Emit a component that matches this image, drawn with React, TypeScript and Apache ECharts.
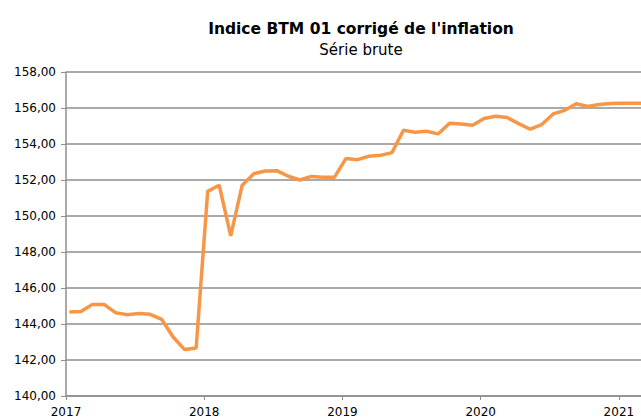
import React, { useEffect, useRef } from "react";
import * as echarts from "echarts";

const startYear = 2017;
const values: number[] = [
  144.67, 144.70, 145.09, 145.09, 144.63, 144.52, 144.58, 144.54, 144.26, 143.28, 142.58, 142.67,
  151.37, 151.71, 148.89, 151.71, 152.35, 152.50, 152.52, 152.21, 152.00, 152.20, 152.15, 152.15,
  153.19, 153.13, 153.32, 153.37, 153.52, 154.76, 154.65, 154.71, 154.56, 155.15, 155.11, 155.04,
  155.42, 155.54, 155.47, 155.13, 154.82, 155.08, 155.67, 155.87, 156.24, 156.08, 156.20, 156.25,
  156.26, 156.26, 156.26,
];
const yTicks = { min: 140, max: 158, interval: 2 };
const xTicks = { min: 2017, max: 2021.16, interval: 1 };
const titleText = "Indice BTM 01 corrigé de l'inflation";
const subtitleText = "Série brute";

export default function App() {
  const ref = useRef<HTMLDivElement>(null);
  useEffect(() => {
    if (!ref.current) return;
    const chart = echarts.init(ref.current, null, { renderer: "svg" });
    const data = values.map((v, i) => [startYear + (i + 0.3) / 12, v]);
    chart.setOption({
      animation: false,
      backgroundColor: "#ffffff",
      title: {
        text: titleText,
        subtext: subtitleText,
        left: 356,
        textAlign: "center",
        top: 15,
        itemGap: 3,
        textStyle: { fontFamily: "DejaVu Sans", fontWeight: "bold", fontSize: 15.5, color: "#000", lineHeight: 18 },
        subtextStyle: { fontFamily: "DejaVu Sans", fontSize: 15, color: "#000", lineHeight: 18 },
      },
      grid: { left: 66, right: 0, top: 72, bottom: 23, containLabel: false },
      xAxis: {
        type: "value",
        min: xTicks.min,
        max: xTicks.max,
        interval: xTicks.interval,
        axisLine: { show: true, lineStyle: { color: "#8e8e8e", width: 1.5 } },
        axisTick: { show: true, length: 4, lineStyle: { color: "#8e8e8e" } },
        axisLabel: {
          fontFamily: "DejaVu Sans",
          fontSize: 12,
          color: "#000",
          margin: 10,
          showMaxLabel: false,
          formatter: (v: number) => (Number.isInteger(v) ? String(v) : ""),
        },
        splitLine: { show: false },
      },
      yAxis: {
        type: "value",
        min: yTicks.min,
        max: yTicks.max,
        interval: yTicks.interval,
        axisLine: { show: true, lineStyle: { color: "#8e8e8e", width: 1.5 } },
        axisTick: { show: true, length: 5, lineStyle: { color: "#8e8e8e" } },
        axisLabel: {
          fontFamily: "DejaVu Sans",
          fontSize: 12,
          color: "#000",
          margin: 10,
          formatter: (v: number) => v.toFixed(2).replace(".", ","),
        },
        splitLine: { show: true, lineStyle: { color: "#8e8e8e", width: 1.5 } },
      },
      series: [
        {
          type: "line",
          data,
          showSymbol: false,
          symbol: "none",
          lineStyle: { color: "#F79646", width: 3.5 },
          clip: true,
        },
      ],
    });
    return () => chart.dispose();
  }, []);
  return (
    <div
      ref={ref}
      style={{ position: "fixed", left: 0, top: 0, width: 641, height: 419 }}
    />
  );
}
